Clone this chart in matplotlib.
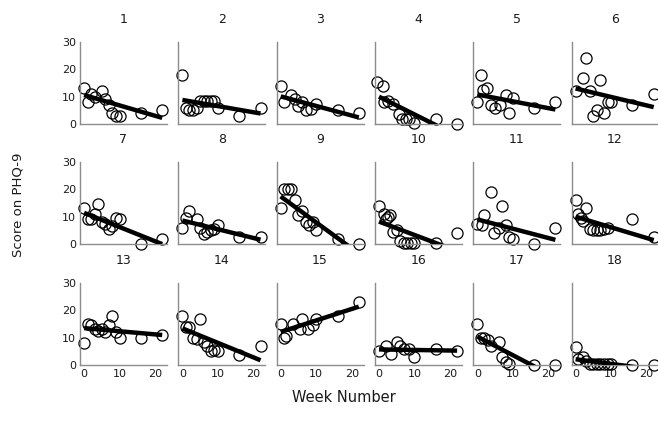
import matplotlib
matplotlib.use("Agg")
import matplotlib.pyplot as plt
import numpy as np

plt.rcParams.update({
    "font.family": ["DejaVu Sans"],
    "font.size": 8,
})

# weeks and PHQ-9 scores per subject
weeks = {
    1: [0, 1, 2, 3, 5, 6, 7, 8, 9, 10, 16, 22],
    2: [0, 1, 2, 3, 4, 5, 6, 7, 8, 9, 10, 16, 22],
    3: [0, 1, 3, 4, 5, 6, 7, 8.5, 10, 16, 22],
    4: [-0.5, 1, 1.4, 2.5, 4, 5.5, 6.5, 7.5, 8.5, 10, 16, 22],
    5: [0, 1, 1.6, 2.8, 4, 5, 6.4, 8, 9, 10, 16, 22],
    6: [0, 2, 3, 4, 5, 6, 7, 8, 9, 10, 16, 22],
    7: [0, 1, 2, 3, 4, 5, 6, 7, 8, 9, 10, 16, 22],
    8: [0, 1, 2, 4, 5, 6, 7, 8, 9, 10, 16, 22],
    9: [0, 1, 2, 3, 4, 5, 6, 7, 8, 9, 10, 16, 22],
    10: [0, 1.4, 2, 2.5, 3.2, 4, 5, 6, 7, 8, 9, 10, 16, 22],
    11: [0, 1.3, 2, 3.8, 4.8, 6, 6.9, 8, 9, 10, 16, 22],
    12: [0, 0.7, 1.5, 2, 3, 4, 5, 6, 7, 8, 9, 16, 22],
    13: [0, 1, 2, 3, 4, 5, 6, 7, 8, 9, 10, 16, 22],
    14: [0, 1, 2, 3, 4, 5, 6, 7, 8, 9, 10, 16, 22],
    15: [0, 1, 1.5, 3.5, 5.4, 6, 7.7, 9, 10, 16, 22],
    16: [0, 2, 3.5, 5, 6, 7, 8.5, 10, 16, 22],
    17: [0, 1, 2, 3, 4, 6, 7, 8, 9, 16, 22],
    18: [0, 0.6, 2, 3, 4, 5, 6, 7, 8, 9, 10, 16, 22],
}
scores = {
    1: [13, 8, 11, 10, 12, 9, 7, 4, 3, 3, 4, 5],
    2: [18, 6, 5, 5, 6, 8.5, 8.5, 8.5, 8.5, 8.5, 6, 3, 6],
    3: [14, 8, 10.5, 9, 6.5, 8, 5, 5.5, 7.5, 5, 4],
    4: [15.5, 14, 8, 8.5, 7.5, 3.5, 2, 2, 2, 0.5, 2, 0],
    5: [8, 18, 12.5, 13, 7, 6, 7, 10.5, 4, 9.5, 6, 8],
    6: [12, 17, 24, 12, 3, 5, 16, 4, 8, 8, 7, 11],
    7: [13, 9, 9, 11, 14.5, 8, 7.5, 5.5, 6.5, 9.5, 9, 0, 2],
    8: [6, 9.5, 12, 9, 6, 3.5, 4.5, 5, 5.5, 7, 2.5, 2.5],
    9: [13, 20, 20, 20, 16, 10.5, 12, 8, 7, 8, 5, 2, 0],
    10: [14, 11, 9, 10, 10.5, 4.5, 5, 1, 0.5, 0.5, 0.5, 0.5, 0.3, 4],
    11: [7.5, 7, 10.5, 19, 4, 6, 14, 7, 2.7, 2, 0, 6],
    12: [16, 11, 9.5, 8.5, 13, 5.5, 5, 5, 5, 5.5, 6, 9, 2.5],
    13: [8, 15, 14.5, 13, 12.5, 13, 12, 14.5, 18, 12, 10, 10, 11],
    14: [18, 14, 14, 10, 9.5, 17, 8.5, 7, 5, 5.5, 5, 3.5, 7],
    15: [15, 10, 10.5, 15, 13, 17, 13, 14.5, 17, 18, 23],
    16: [5, 7, 4, 8.5, 7, 6, 6, 3, 6, 5],
    17: [15, 10, 9.8, 9.3, 7, 8.5, 3, 1.2, 0.2, 0, 0],
    18: [6.7, 2.2, 3, 1.5, 0.5, 0.5, 0.5, 0.5, 0.5, 0.5, 0.5, 0, 0],
}
# fitted line per subject (intercept at week 0, slope per week)
fit_intercept = [10.6, 8.8, 10.1, 10.0, 10.8, 13.0, 11.4, 8.6, 17.4, 8.2, 9.0,
                 10.0, 13.5, 13.4, 12.1, 5.7, 10.4, 2.1]
fit_slope = [-0.38, -0.225, -0.35, -0.65, -0.25, -0.31, -0.52, -0.32, -0.95,
             -0.49, -0.34, -0.39, -0.115, -0.53, 0.42, -0.02, -0.68, -0.17]

W, H = 658, 425
fig = plt.figure(figsize=(W / 100, H / 100), dpi=100)

col_left = [80 + 98.3 * c for c in range(6)]
row_bottom = [124, 244, 365]
ax_w, ax_h = 87, 82
spine_col = "#8c8c8c"

for i in range(18):
    subj = i + 1
    r, c = divmod(i, 6)
    ax = fig.add_axes([col_left[c] / W, (H - row_bottom[r]) / H, ax_w / W, ax_h / H])
    x = np.array(weeks[subj], dtype=float)
    y = np.array(scores[subj], dtype=float)
    xl = np.array([max(x.min(), 0), x.max()])
    ax.plot(xl, fit_intercept[i] + fit_slope[i] * xl, color="black", lw=3.2,
            solid_capstyle="butt", zorder=3)
    ax.plot(x, y, "o", mfc="none", mec="black", mew=0.9, ms=8.0,
            clip_on=False, zorder=2)
    ax.set_xlim(-1.15, 23.35)
    ax.set_ylim(0, 30)
    for s in ("top", "right"):
        ax.spines[s].set_visible(False)
    for s in ("left", "bottom"):
        ax.spines[s].set_color(spine_col)
        ax.spines[s].set_linewidth(1.0)
    ax.tick_params(length=0, pad=3, labelsize=8, colors="#1a1a1a")
    ax.set_xticks([0, 10, 20])
    ax.set_yticks([0, 10, 20, 30])
    if c != 0:
        ax.set_yticklabels([])
    if r != 2:
        ax.set_xticklabels([])
    ax.set_title(str(subj), fontsize=9, pad=14, color="#1a1a1a")

fig.text(18 / W, 1 - 205 / H, "Score on PHQ-9", rotation=90, ha="center",
         va="center", fontsize=9.5, color="#1a1a1a")
fig.text(344 / W, 1 - 397 / H, "Week Number", ha="center", va="center",
         fontsize=10.5, color="#1a1a1a")

fig.savefig("out.png", dpi=100)
